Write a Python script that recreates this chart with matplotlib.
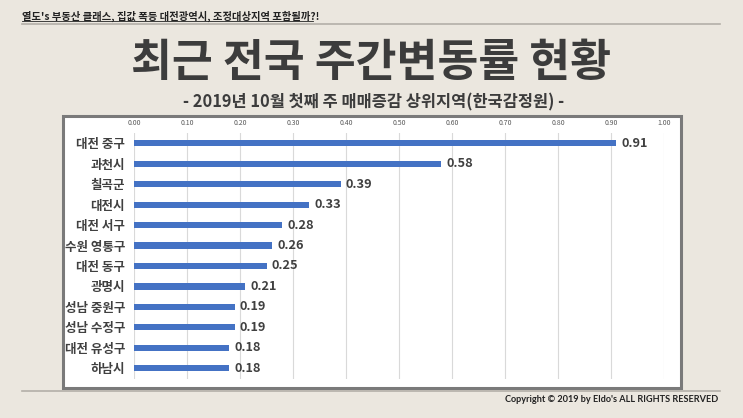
"""
Weekly price change ranking chart (top regions, 1st week of Oct 2019).
"""
# %%
import numpy as np
import matplotlib.pyplot as plt
from matplotlib.patches import Rectangle
from matplotlib.lines import Line2D

plt.rcParams['font.family'] = ['Noto Sans CJK KR', 'DejaVu Sans']

# Data
regions = ['대전 중구', '과천시', '칠곡군', '대전시', '대전 서구', '수원 영통구',
           '대전 동구', '광명시', '성남 중원구', '성남 수정구', '대전 유성구', '하남시']
changes = [0.91, 0.58, 0.39, 0.33, 0.28, 0.26, 0.25, 0.21, 0.19, 0.19, 0.18, 0.18]
x_ticks = [0.0, 0.1, 0.2, 0.3, 0.4, 0.5, 0.6, 0.7, 0.8, 0.9, 1.0]

header = '열도\'s 부동산 클래스, 집값 폭등 대전광역시, 조정대상지역 포함될까?!'
title = '최근 전국 주간변동률 현황'
subtitle = '- 2019년 10월 첫째 주 매매증감 상위지역(한국감정원) -'
footer = 'Copyright © 2019 by Eldo\'s ALL RIGHTS RESERVED'

W, H = 743, 418
bg = '#ebe7df'
txt = '#3c3c3c'

fig = plt.figure(figsize=(W/100, H/100), dpi=100, facecolor=bg)


def fx(px):
    return px/W


def fy(py):
    return 1 - py/H


# %% Decorations
fig.add_artist(Line2D([fx(22), fx(720)], [fy(24), fy(24)], color='#b3afa8', lw=1.2))
fig.add_artist(Line2D([fx(22), fx(720)], [fy(391), fy(391)], color='#b3afa8', lw=1.2))
fig.text(fx(22), fy(16), header, fontsize=7.4, fontweight='bold', color='#222222',
         va='center', ha='left')
fig.add_artist(Line2D([fx(22), fx(313)], [fy(21), fy(21)], color='#222222', lw=0.6))

fig.text(fx(371), fy(63), title, fontsize=32, fontweight='heavy', color=txt,
         ha='center', va='center')
fig.text(fx(374), fy(102), subtitle, fontsize=11.8, fontweight='bold', color=txt,
         ha='center', va='center')
fig.text(fx(718), fy(400), footer, fontsize=6.6, fontweight='bold',
         color='#222222', ha='right', va='center', family=['Lato', 'DejaVu Sans'])

# White chart box
fig.add_artist(Rectangle((fx(63), fy(388)), fx(681) - fx(63), fy(116) - fy(388),
                         facecolor='white', edgecolor='#7a7a7a', lw=2.2,
                         transform=fig.transFigure, zorder=0))

# %% Bar chart
ax = fig.add_axes([fx(134), fy(378.5), fx(664) - fx(134), fy(133) - fy(378.5)])
ax.set_facecolor('none')
y = np.arange(len(regions))
ax.barh(y, changes, height=0.3, color='#4472c4', zorder=2)
for yi, v in zip(y, changes):
    ax.text(v + 0.01, yi, '{:.2f}'.format(v), fontsize=9.2, fontweight='bold',
            color='#404040', va='center', ha='left')

ax.set_xlim(0, 1)
ax.set_ylim(len(regions) - 0.5, -0.5)
ax.set_xticks(x_ticks)
ax.set_xticklabels(['{:.2f}'.format(t) for t in x_ticks], fontsize=5,
                   color='#595959')
ax.xaxis.tick_top()
ax.set_yticks(y)
ax.set_yticklabels(regions, fontsize=9, fontweight='bold', color='#404040')
ax.tick_params(length=0, axis='y', pad=6.5)
ax.tick_params(length=0, axis='x', pad=4.5)
ax.grid(axis='x', color='#d9d9d9', lw=0.8, zorder=0)
ax.set_axisbelow(True)
for s in ax.spines.values():
    s.set_visible(False)

fig.savefig('out.png', dpi=100, facecolor=bg)
